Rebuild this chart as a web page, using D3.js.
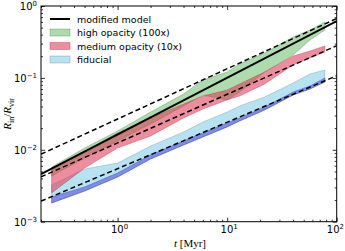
<!DOCTYPE html>
<html>
<head>
<meta charset="utf-8">
<script src="https://cdn.jsdelivr.net/npm/d3@7"></script>
<style>
  body { margin: 0; background: #fff; }
  text { font-family: "DejaVu Sans", sans-serif; }
</style>
</head>
<body>
<div id="chart"></div>
<script>
const width = 345;
const height = 251;
const margin = { top: 6, right: 8.3, bottom: 29.3, left: 41 };

// time samples [Myr]
const times = [0.25, 0.5, 1, 2, 4, 6, 10, 13, 22, 40, 57, 78];

// high opacity (100x)
const highLo = [0.00432, 0.00769, 0.01326, 0.0228, 0.0407, 0.0578, 0.0493, 0.0637, 0.1208, 0.2082, 0.3365, 0.4637];
const highHi = [0.00576, 0.01059, 0.01826, 0.0335, 0.0597, 0.0935, 0.1208, 0.1561, 0.2220, 0.3706, 0.4637, 0.599];

// medium opacity (10x)
const medLo = [0.00251, 0.00558, 0.01059, 0.01556, 0.0277, 0.0369, 0.0493, 0.0560, 0.0823, 0.1511, 0.1891, 0.2293];
const medHi = [0.00524, 0.00932, 0.01713, 0.0277, 0.0434, 0.0560, 0.0679, 0.0823, 0.1208, 0.2017, 0.2366, 0.2778];

// fiducial
const fidLo = [0.00182, 0.00267, 0.00418, 0.00745, 0.01166, 0.01507, 0.0208, 0.02515, 0.0358, 0.0578, 0.0701, 0.0877];
const fidHi = [0.00324, 0.00541, 0.00655, 0.01129, 0.01768, 0.02435, 0.0335, 0.0407, 0.0543, 0.0849, 0.1133, 0.1288];

// darker lower edge of the fiducial runs
const fidCoreLo = fidLo;
const fidCoreHi = [0.00221, 0.00304, 0.00476, 0.00847, 0.01326, 0.01713, 0.0236, 0.0277, 0.0394, 0.0637, 0.0772, 0.0997];

// model lines, [t, R] at the ends of the time range
const modelLine = [[0.2, 0.0046], [100, 0.618]];
const dashTop = [[0.2, 0.0087], [100, 0.67]];
const dashMid = [[0.2, 0.0042], [100, 0.28]];
const dashLow = [[0.2, 0.00193], [100, 0.107]];

const xMajor = [1, 10, 100];
const yMajor = [1e-3, 1e-2, 1e-1, 1];
const xExp = ["0", "1", "2"];
const yExp = ["-3", "-2", "-1", "0"];

const legendLabels = ["modified model", "high opacity (100x)", "medium opacity (10x)", "fiducial"];

const svg = d3.select("#chart")
    .append("svg")
    .attr("width", width)
    .attr("height", height);

const x = d3.scaleLog()
    .domain([0.2, 100])
    .range([margin.left, width - margin.right]);

const y = d3.scaleLog()
    .domain([1e-3, 1])
    .range([height - margin.bottom, margin.top]);

svg.append("defs").append("clipPath")
    .attr("id", "plot-clip")
  .append("rect")
    .attr("x", margin.left).attr("y", margin.top)
    .attr("width", x.range()[1] - margin.left)
    .attr("height", y.range()[0] - margin.top);

const plot = svg.append("g").attr("clip-path", "url(#plot-clip)");

const bands = [
    { lo: fidLo, hi: fidHi, fill: "#8fd3ea", stroke: "#7a8a90", op: 0.65 },
    { lo: fidCoreLo, hi: fidCoreHi, fill: "#4848e4", stroke: "#3030a0", op: 0.55 },
    { lo: highLo, hi: highHi, fill: "#5cb85c", stroke: "#4a8a4a", op: 0.5 },
    { lo: medLo, hi: medHi, fill: "#e0304f", stroke: "#b03048", op: 0.55 }
];

const area = d3.area()
    .x(d => x(d.t))
    .y0(d => y(d.lo))
    .y1(d => y(d.hi));

bands.forEach(b => {
    const rows = times.map((t, i) => ({ t: t, lo: b.lo[i], hi: b.hi[i] }));
    plot.append("path")
        .attr("d", area(rows))
        .attr("fill", b.fill)
        .attr("fill-opacity", b.op)
        .attr("stroke", b.stroke)
        .attr("stroke-opacity", 0.6)
        .attr("stroke-width", 0.6);
});

const line = d3.line()
    .x(d => x(d[0]))
    .y(d => y(d[1]));

[dashTop, dashMid, dashLow].forEach(pts => {
    plot.append("path")
        .attr("d", line(pts))
        .attr("fill", "none")
        .attr("stroke", "#000")
        .attr("stroke-width", 1.5)
        .attr("stroke-dasharray", "5,3");
});

plot.append("path")
    .attr("d", line(modelLine))
    .attr("fill", "none")
    .attr("stroke", "#000")
    .attr("stroke-width", 2);

// ticks, pointing inwards on all four sides
const xMinor = [];
[0.1, 1, 10].forEach(dec => d3.range(2, 10).forEach(k => {
    const v = dec * k;
    if (v >= 0.2 && v < 100) xMinor.push(v);
}));
const yMinor = [];
[1e-3, 1e-2, 1e-1].forEach(dec => d3.range(2, 10).forEach(k => yMinor.push(dec * k)));

function addAxis(axis, tx, ty) {
    const g = svg.append("g")
        .attr("transform", `translate(${tx},${ty})`)
        .call(axis);
    g.select(".domain").remove();
    g.selectAll("line").attr("stroke", "#000").attr("stroke-width", 0.8);
}

const yB = y.range()[0];
const xR = x.range()[1];
addAxis(d3.axisBottom(x).tickValues(xMajor).tickSize(-4).tickFormat(""), 0, yB);
addAxis(d3.axisBottom(x).tickValues(xMinor).tickSize(-2).tickFormat(""), 0, yB);
addAxis(d3.axisTop(x).tickValues(xMajor).tickSize(-4).tickFormat(""), 0, margin.top);
addAxis(d3.axisTop(x).tickValues(xMinor).tickSize(-2).tickFormat(""), 0, margin.top);
addAxis(d3.axisLeft(y).tickValues(yMajor).tickSize(-4).tickFormat(""), margin.left, 0);
addAxis(d3.axisLeft(y).tickValues(yMinor).tickSize(-2).tickFormat(""), margin.left, 0);
addAxis(d3.axisRight(y).tickValues(yMajor).tickSize(-4).tickFormat(""), xR, 0);
addAxis(d3.axisRight(y).tickValues(yMinor).tickSize(-2).tickFormat(""), xR, 0);

svg.append("rect")
    .attr("x", margin.left).attr("y", margin.top)
    .attr("width", xR - margin.left)
    .attr("height", yB - margin.top)
    .attr("fill", "none")
    .attr("stroke", "#000")
    .attr("stroke-width", 1);

// tick labels 10^n
xMajor.forEach((v, i) => {
    const last = i === xMajor.length - 1;
    const t = svg.append("text")
        .attr("x", last ? width - 1 : x(v) + 2)
        .attr("y", yB + 11.5)
        .attr("text-anchor", last ? "end" : "middle")
        .attr("font-size", 10);
    t.append("tspan").text("10");
    t.append("tspan").attr("dy", -4).attr("font-size", 7).text(xExp[i]);
});

yMajor.forEach((v, i) => {
    const t = svg.append("text")
        .attr("x", margin.left - 4)
        .attr("y", y(v) + 4)
        .attr("text-anchor", "end")
        .attr("font-size", 10);
    t.append("tspan").text("10");
    t.append("tspan").attr("dy", -4).attr("font-size", 7).text(yExp[i].replace("-", "\u2212"));
});

// axis titles
const xt = svg.append("text")
    .attr("x", 190)
    .attr("y", 247)
    .attr("text-anchor", "middle")
    .attr("font-size", 11)
    .style("font-family", "'Liberation Serif', serif");
xt.append("tspan").attr("font-style", "italic").text("t");
xt.append("tspan").text(" [Myr]");

const yt = svg.append("text")
    .attr("transform", `translate(11,${(margin.top + yB) / 2}) rotate(-90)`)
    .attr("text-anchor", "middle")
    .attr("font-size", 11)
    .style("font-family", "'Liberation Serif', serif");
yt.append("tspan").attr("font-style", "italic").text("R");
yt.append("tspan").attr("dy", 2.5).attr("font-size", 8).text("in");
yt.append("tspan").attr("dy", -2.5).text("/");
yt.append("tspan").attr("font-style", "italic").text("R");
yt.append("tspan").attr("dy", 2.5).attr("font-size", 8).text("vir");

// legend
const legend = svg.append("g").attr("transform", "translate(50,19)");
const rowH = 13.5;
legend.append("line")
    .attr("x1", 0).attr("x2", 20)
    .attr("y1", 0).attr("y2", 0)
    .attr("stroke", "#000")
    .attr("stroke-width", 2);
[bands[2], bands[3], bands[0]].forEach((b, i) => {
    legend.append("rect")
        .attr("x", 0).attr("y", (i + 1) * rowH - 3.5)
        .attr("width", 20).attr("height", 7)
        .attr("fill", b.fill)
        .attr("fill-opacity", b.op)
        .attr("stroke", b.stroke)
        .attr("stroke-opacity", 0.6)
        .attr("stroke-width", 0.6);
});
legendLabels.forEach((s, i) => {
    legend.append("text")
        .attr("x", 27)
        .attr("y", i * rowH + 3.5)
        .attr("font-size", 9.5)
        .text(s);
});
</script>
</body>
</html>
